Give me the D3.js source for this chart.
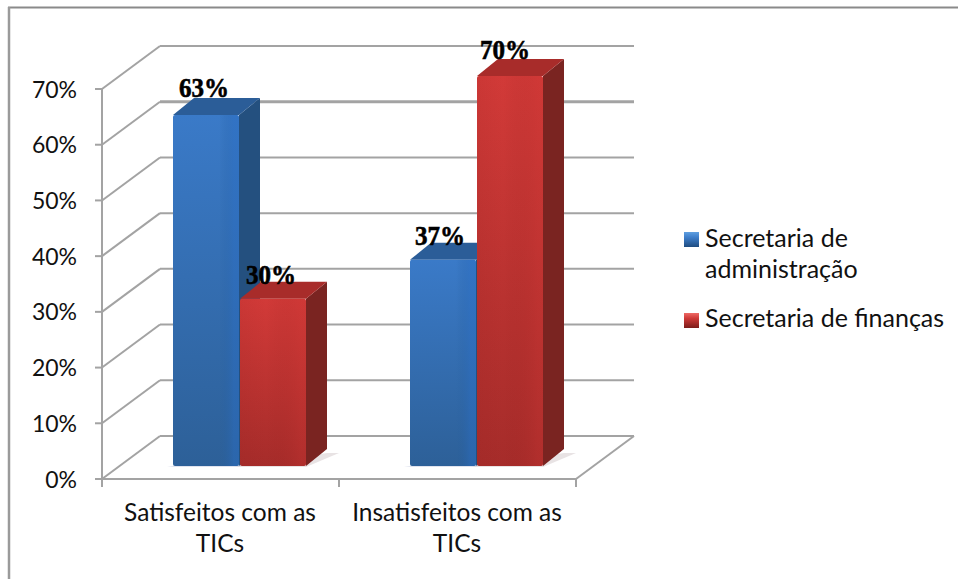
<!DOCTYPE html>
<html><head><meta charset="utf-8">
<script src="https://cdn.jsdelivr.net/npm/d3@7"></script>
<style>html,body{margin:0;padding:0;background:#fff}svg{display:block}</style>
</head><body><div id="c"></div>
<script>
const categories = [["Satisfeitos com as","TICs"],["Insatisfeitos com as","TICs"]];
const seriesNames = [["Secretaria de","administração"],["Secretaria de finanças"]];
const administracao = [0.63,0.37];
const financas = [0.30,0.70];
const ticks = [0,0.1,0.2,0.3,0.4,0.5,0.6,0.7];

const W=958,H=579;
const svg=d3.select("#c").append("svg").attr("width",W).attr("height",H);
const defs=svg.append("defs");
function grad(id,stops,x2,y2){const g=defs.append("linearGradient").attr("id",id).attr("x1",0).attr("y1",0).attr("x2",x2).attr("y2",y2);
 stops.forEach(s=>{const t=g.append("stop").attr("offset",s[0]).attr("stop-color",s[1]);if(s[2]!==undefined)t.attr("stop-opacity",s[2]);});}
grad("blueF",[[0,"#3a7ac8"],[1,"#2d6098"]],0,1);
grad("redF",[[0,"#d23a38"],[1,"#a62c2a"]],0,1);
grad("blueS",[[0,"#245a96",0],[0.7,"#245a96",0],[0.92,"#2a6cc0",0.5],[1,"#2a6cc0",0.5]],1,0);
grad("redS",[[0,"#8c1f1d",0.1],[0.4,"#8c1f1d",0],[0.92,"#c83432",0.3],[1,"#c83432",0.3]],1,0);
grad("blueL",[[0,"#5f9fe0"],[0.35,"#3f7fcb"],[1,"#1f4c80"]],0,1);
grad("redL",[[0,"#ee6a66"],[0.35,"#cf3a38"],[1,"#7c1c1a"]],0,1);

// frame: only the top and left edges are visible
svg.append("line").attr("x1",8).attr("y1",7.5).attr("x2",W).attr("y2",7.5).attr("stroke","#8a8a8a").attr("stroke-width",2);
svg.append("line").attr("x1",9).attr("y1",7).attr("x2",9).attr("y2",H).attr("stroke","#9a9a9a").attr("stroke-width",2.5);

const y=d3.scaleLinear().domain([0,0.7]).range([479,89]);
const x=d3.scaleBand().domain([0,1]).range([102,576]);
const depthX=58,depthY=43;
const grid="#a3a3a3";
const g=svg.append("g");
ticks.forEach(t=>{
  g.append("line").attr("x1",102).attr("y1",y(t)).attr("x2",102+depthX).attr("y2",y(t)-depthY).attr("stroke",grid).attr("stroke-width",2);
  g.append("line").attr("x1",102+depthX).attr("y1",y(t)-depthY).attr("x2",576+depthX).attr("y2",y(t)-depthY).attr("stroke",grid).attr("stroke-width",t===0.6?3:2);
  g.append("line").attr("x1",95).attr("y1",y(t)).attr("x2",102).attr("y2",y(t)).attr("stroke",grid).attr("stroke-width",2);
});
g.append("line").attr("x1",576).attr("y1",y(0)).attr("x2",576+depthX).attr("y2",y(0)-depthY).attr("stroke",grid).attr("stroke-width",2);
g.append("line").attr("x1",102).attr("y1",y(0.7)).attr("x2",102).attr("y2",487).attr("stroke",grid).attr("stroke-width",2);
g.append("line").attr("x1",95).attr("y1",y(0)).attr("x2",576).attr("y2",y(0)).attr("stroke",grid).attr("stroke-width",2);
[0,1].forEach(i=>{const px=x(i)+x.bandwidth();g.append("line").attr("x1",px).attr("y1",479).attr("x2",px).attr("y2",487).attr("stroke",grid).attr("stroke-width",2);});

const font="Lato, Carlito, 'Open Sans', sans-serif";
ticks.forEach(t=>{
  svg.append("text").attr("x",77).attr("y",y(t)+8.5).attr("text-anchor","end").attr("font-family",font).attr("font-size",23).attr("fill","#111").text(d3.format(".0%")(t));
});
categories.forEach((c,i)=>{
  c.forEach((l,j)=>svg.append("text").attr("x",i?457:220).attr("y",521+j*31).attr("text-anchor","middle").attr("font-family",font).attr("font-size",24.5).attr("fill","#111").text(l));
});

const barW=66, base=13, dx=21, dy=17;
const v=d=>y(d)-base;
const colors={blue:{side:"#24507f",top:"#2b5d98"},red:{side:"#7a2421",top:"#a82c2a"}};
const leftOf=(i,s)=>[173,410][i]+s*67;
function bar(i,s,val,k){
  const l=leftOf(i,s),r=l+barW,t=v(val),b=v(0),c=colors[k];
  g.append("path").attr("d",`M${l-6},${b+1}L${r},${b+1}L${r+dx+12},${b-dy+4}L${r+dx},${b-dy+4}Z`).attr("fill",k==="red"?"#d9d0d2":"#ccd0e2").attr("opacity",0.6);
  g.append("path").attr("d",`M${r},${t}L${r+dx},${t-dy}L${r+dx},${b-dy}L${r},${b}Z`).attr("fill",c.side);
  g.append("path").attr("d",`M${l},${t}L${l+dx},${t-dy}L${r+dx},${t-dy}L${r},${t}Z`).attr("fill",c.top);
  g.append("rect").attr("x",l).attr("y",t).attr("width",barW).attr("height",b-t).attr("rx",2).attr("fill",`url(#${k}F)`);
  g.append("rect").attr("x",l).attr("y",t).attr("width",barW).attr("height",b-t).attr("rx",2).attr("fill",`url(#${k}S)`);
}
[0,1].forEach(i=>{bar(i,0,administracao[i],"blue");bar(i,1,financas[i],"red");});

const labelShift=[[-2,-1],[-3,-1]];
[0,1].forEach(i=>{
  [[administracao,0],[financas,1]].forEach(([a,s])=>{
    const lift=(i===0&&s===0)?1:(i===1&&s===1)?0:-2;
    svg.append("text").attr("x",leftOf(i,s)+barW/2+(i===1&&s===1?-5:labelShift[i][0])).attr("y",v(a[i])-dy-lift)
      .attr("text-anchor","middle").attr("font-family","'Liberation Serif',serif").attr("font-weight","bold").attr("font-size",27).attr("textLength",50).attr("lengthAdjust","spacingAndGlyphs").attr("fill","#000").attr("stroke","#000").attr("stroke-width",0.6).text(d3.format(".0%")(a[i]));
  });
});

const lg=svg.append("g");
const swatchY=[232,313], textY=[247,327];
["blue","red"].forEach((k,i)=>{
  lg.append("rect").attr("x",684).attr("y",swatchY[i]).attr("width",15).attr("height",15).attr("fill",`url(#${k}L)`);
  seriesNames[i].forEach((l,j)=>lg.append("text").attr("x",705).attr("y",textY[i]+j*31).attr("font-family",font).attr("font-size",25).attr("fill","#111").text(l));
});
</script></body></html>
